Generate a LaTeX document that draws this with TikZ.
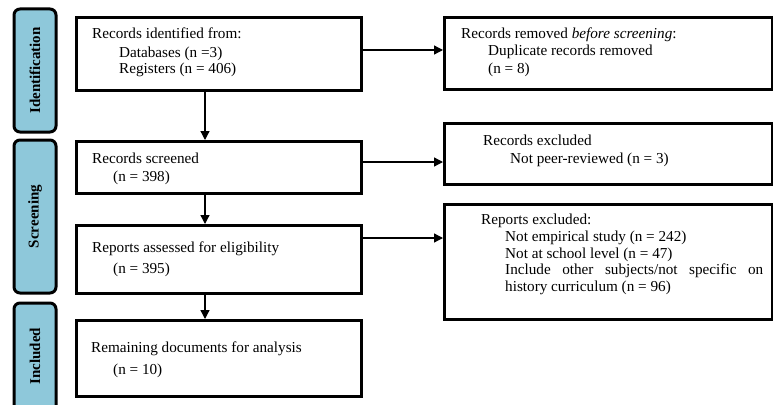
\documentclass[tikz,border=0pt]{standalone}
\usepackage{fontspec}
\setmainfont{Liberation Serif}
\usetikzlibrary{arrows.meta}
\definecolor{sidecol}{RGB}{142,200,218}
\tikzset{
  box/.style={draw=black, line width=2.6pt, fill=white, inner sep=0pt},
  sidebox/.style={draw=black, line width=3pt, fill=sidecol, rounded corners=6pt, inner sep=0pt},
  sidelabel/.style={rotate=90, font=\fontsize{15}{16}\selectfont\bfseries},
  txt/.style={anchor=base west, inner sep=0pt, font=\fontsize{15.2}{17}\selectfont},
  flow/.style={line width=1.3pt, -{Triangle[length=9pt,width=9pt]}},
}
\begin{document}
\begin{tikzpicture}[x=1pt,y=-1pt]
\useasboundingbox (0,0) rectangle (773,404);
% sidebars
\draw[sidebox] (14,9) rectangle (56,132);
\node[sidelabel] (sl1) at (35,70.5) {Identification};
\draw[sidebox] (14,140) rectangle (56,293);
\node[sidelabel] (sl2) at (35,216.5) {Screening};
\draw[sidebox] (14,303) rectangle (56,425);
\node[sidelabel] (sl3) at (35,356) {Included};
% main boxes
\node[box, minimum width=285pt, minimum height=73pt, anchor=north west] (b1) at (75,16) {};
\node[box, minimum width=285pt, minimum height=52pt, anchor=north west] (b2) at (75,140) {};
\node[box, minimum width=285pt, minimum height=68pt, anchor=north west] (b3) at (75,224) {};
\node[box, minimum width=285pt, minimum height=76pt, anchor=north west] (b4) at (75,319) {};
% right boxes
\node[box, minimum width=328pt, minimum height=72pt, anchor=north west] (r1) at (443,16) {};
\node[box, minimum width=328pt, minimum height=61pt, anchor=north west] (r2) at (443,122) {};
\node[box, minimum width=328pt, minimum height=115pt, anchor=north west] (r3) at (443,203) {};
% texts
\node[txt] (t11) at (92,39) {Records identified from:};
\node[txt] (t12) at (119,57) {Databases (n =3)};
\node[txt] (t13) at (119,74) {Registers (n = 406)};
\node[txt] (t21) at (92,163) {Records screened};
\node[txt] (t22) at (113,181) {(n = 398)};
\node[txt] (t31) at (92,252) {Reports assessed for eligibility};
\node[txt] (t32) at (113,273) {(n = 395)};
\node[txt] (t41) at (91,352) {Remaining documents for analysis};
\node[txt] (t42) at (113,374) {(n = 10)};
\node[txt] (u11) at (461,38) {Records removed \textit{before screening}:};
\node[txt] (u12) at (488,56) {Duplicate records removed};
\node[txt] (u13) at (488,74) {(n = 8)};
\node[txt] (u21) at (483,145) {Records excluded};
\node[txt] (u22) at (510,163) {Not peer-reviewed (n = 3)};
\node[txt] (u31) at (481,224) {Reports excluded:};
\node[txt] (u32) at (505,241) {Not empirical study (n = 242)};
\node[txt] (u33) at (505,258) {Not at school level (n = 47)};
\node[txt] (u34) at (505,274) {\makebox[258pt][s]{Include other subjects/not specific on}};
\node[txt] (u35) at (505,291) {history curriculum (n = 96)};
% connectors
\draw[flow] (b1.south -| 205,0) -- (b2.north -| 205,0);
\draw[flow] (b2.south -| 205,0) -- (b3.north -| 205,0);
\draw[flow] (b3.south -| 205,0) -- (b4.north -| 205,0);
\draw[flow] (b1.east |- 0,50) -- (r1.west |- 0,50);
\draw[flow] (b2.east |- 0,162) -- (r2.west |- 0,162);
\draw[flow] (b3.east |- 0,238) -- (r3.west |- 0,238);
\end{tikzpicture}
\end{document}
